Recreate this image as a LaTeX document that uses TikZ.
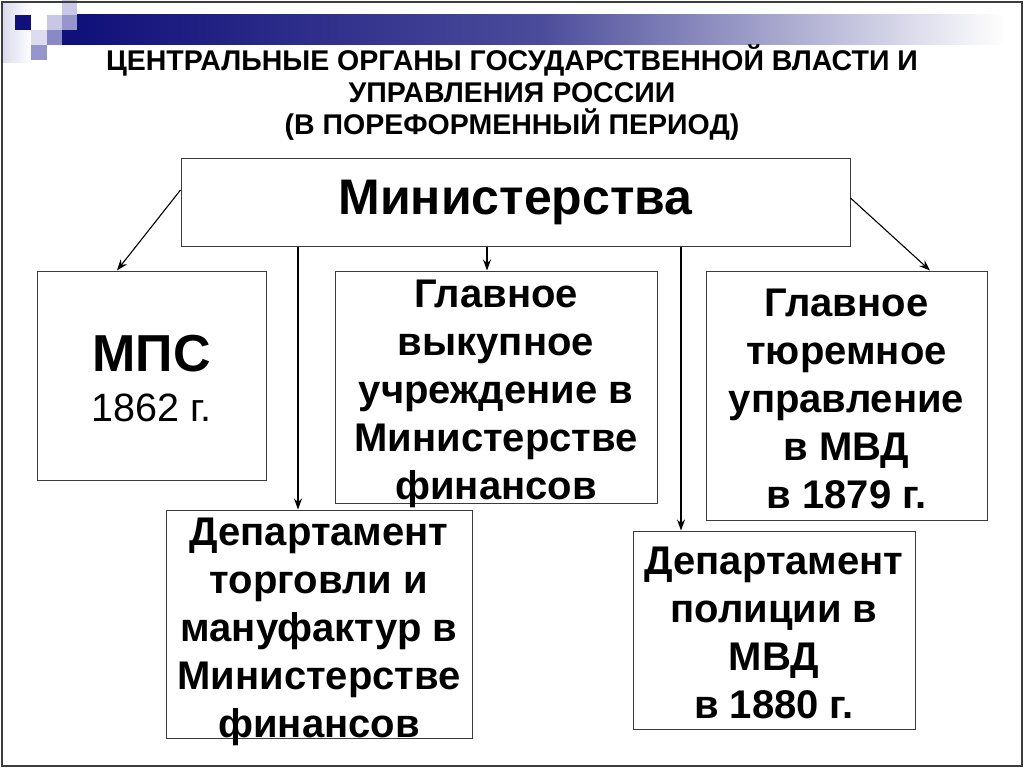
\documentclass[tikz,border=0pt]{standalone}
\usepackage{fontspec}
\setmainfont{Liberation Sans}
\usetikzlibrary{arrows.meta}
\definecolor{navy}{RGB}{16,16,122}
\definecolor{lavA}{RGB}{200,200,230}
\definecolor{lavB}{RGB}{150,150,205}
\definecolor{lavC}{RGB}{220,220,238}
\definecolor{framegray}{RGB}{60,60,60}
\tikzset{
  box/.style={draw=framegray, line width=1pt, inner sep=0pt},
  lbl/.style={align=center, inner sep=0pt, font=\bfseries\fontsize{40}{48}\selectfont},
  arr/.style={line width=1.1pt, -{Stealth[length=11pt,width=8pt]}},
}
\begin{document}
\begin{tikzpicture}[x=1pt,y=-1pt]
\useasboundingbox (0,0) rectangle (1024,768);
\fill[white] (0,0) rectangle (1024,768);
% decoration
\shade[left color=lavA!70, right color=white] (2,2) rectangle (32,62);
\shade[left color=navy, right color=white, middle color=navy!75] (77,15) rectangle (1005,45);
\fill[navy] (15,15) rectangle (31,30);
\fill[lavC] (31,30) rectangle (47,45);
\fill[lavB] (31,45) rectangle (47,60);
\fill[lavA] (47,15) rectangle (62,30);
\fill[lavB!90!navy] (47,30) rectangle (62,45);
\fill[lavA] (62,0) rectangle (77,15);
\fill[lavB] (62,15) rectangle (77,30);
\fill[navy] (62,30) rectangle (77,45);
% frame
\draw[framegray, line width=1.2pt] (2,2) rectangle (1022,766);
% title
\node[font=\bfseries\fontsize{28.5}{32}\selectfont, align=center] (title) at (512,93)
  {ЦЕНТРАЛЬНЫЕ ОРГАНЫ ГОСУДАРСТВЕННОЙ ВЛАСТИ И\\УПРАВЛЕНИЯ РОССИИ\\(В ПОРЕФОРМЕННЫЙ ПЕРИОД)};
% boxes
\node[box, minimum width=669, minimum height=88, font=\bfseries\fontsize{50}{56}\selectfont] (min) at (515.5,202) {Министерства};
\node[box, minimum width=229, minimum height=209,
  label={[lbl, yshift=-3pt, font=\fontsize{39.5}{50}\selectfont]center:{{\bfseries\fontsize{52}{52}\selectfont МПС}\\1862 г.}}] (mps) at (151.5,375.5) {};
\node[box, minimum width=322, minimum height=232,
  label={[lbl, yshift=-7pt]center:{Главное\\выкупное\\учреждение в\\Министерстве\\финансов}}] (gv) at (496,387) {};
\node[box, minimum width=281, minimum height=249,
  label={[lbl, yshift=-3pt]center:{Главное\\тюремное\\управление\\в МВД\\в 1879 г.}}] (gt) at (846.5,395.5) {};
\node[box, minimum width=306, minimum height=228,
  label={[lbl, yshift=-8pt]center:{Департамент\\торговли и\\мануфактур в\\Министерстве\\финансов}}] (dt) at (319,624) {};
\node[box, minimum width=282, minimum height=198,
  label={[lbl, yshift=-3pt]center:{Департамент\\полиции в\\МВД\\в 1880 г.}}] (dp) at (774,630) {};
% connectors
\draw[arr] ([yshift=12pt]min.west) -- ([xshift=-34.5pt]mps.north);
\draw[arr] ([yshift=4pt]min.east) -- ([xshift=83.5pt]gt.north);
\draw[arr] (min.south -| 298,0) -- (dt.north -| 298,0);
\draw[arr] (min.south -| 487,0) -- (gv.north -| 487,0);
\draw[arr] (min.south -| 681,0) -- (dp.north -| 681,0);
\end{tikzpicture}
\end{document}
